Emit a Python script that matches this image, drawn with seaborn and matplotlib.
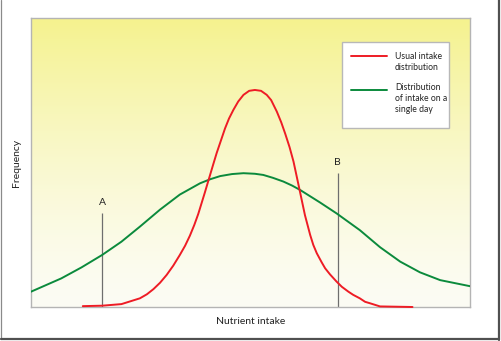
import numpy as np
import pandas as pd
import matplotlib
matplotlib.use("Agg")
import matplotlib.pyplot as plt
from matplotlib.lines import Line2D
from matplotlib.patches import Rectangle
import seaborn as sns

# Usual intake distribution (narrow curve)
usual_x = [11.8, 16.2, 20.6, 24.8, 26.4, 27.9, 29.4, 30.9, 32.4, 33.9, 35.1, 36.2,
           37.2, 38.1, 39.6, 40.5, 41.5, 42.3, 44.2, 45.1, 46.1, 47.2, 48.4, 49.7,
           51.0, 52.4, 53.7, 54.7, 56.0, 57.0, 57.9, 58.9, 59.8, 61.1, 62.4, 63.6,
           64.3, 65.1, 66.2, 67.0, 68.1, 69.6, 70.8, 72.3, 73.4, 74.9, 76.1, 77.2,
           79.5, 86.9]
usual_y = [0.3, 0.45, 1.0, 3.0, 4.4, 6.2, 8.4, 11.1, 14.3, 18.0, 21.2, 24.7,
           28.4, 32.2, 39.6, 44.2, 49.3, 53.3, 61.8, 65.2, 68.2, 71.1, 73.4, 74.8,
           75.1, 74.8, 73.4, 71.6, 67.6, 63.9, 60.0, 55.3, 50.3, 41.1, 31.8, 24.9,
           21.5, 18.6, 15.5, 13.4, 11.3, 8.8, 7.0, 5.3, 4.2, 3.0, 1.8, 1.3,
           0.2, 0.0]

# Distribution of intake on a single day (wide curve)
single_x = [0.0, 6.9, 11.5, 16.2, 20.6, 24.8, 29.4, 33.9, 38.5, 40.8, 43.1, 45.8,
            48.4, 51.0, 52.9, 55.1, 57.5, 59.5, 61.3, 65.8, 69.6, 74.9, 79.5, 84.1,
            88.6, 93.2, 100.0]
single_y = [5.3, 9.9, 13.7, 18.0, 22.6, 27.8, 33.7, 38.9, 42.8, 44.2, 45.3, 46.0,
            46.3, 46.1, 45.7, 44.7, 43.4, 42.0, 40.5, 36.2, 32.4, 26.6, 20.7, 15.7,
            12.0, 9.3, 7.2]

# Cut-off markers: position and height of the marker line
marker_names = ["A", "B"]
marker_x = [16.2, 69.9]
marker_top = [32.5, 46.4]

series_labels = ["Usual intake\ndistribution", "Distribution\nof intake on a\nsingle day"]
red = "#ee1c25"
green = "#0b8a3c"

sns.set_style("white")
plt.rcParams["font.family"] = ["Lato", "DejaVu Sans"]

W, H = 502, 341
fig = plt.figure(figsize=(W / 100, H / 100), dpi=100)
fig.patch.set_facecolor("white")


def fx(x):
    return x / W


def fy(y):
    return 1 - y / H


ax = fig.add_axes([fx(31), fy(307), 439 / W, 289 / H])
ax.set_xlim(0, 100)
ax.set_ylim(0, 100)

# yellow-to-white vertical wash behind the curves
t = np.linspace(0, 1, 256)[:, None] ** 1.4
top = np.array([245, 242, 142]) / 255
bottom = np.array([252, 252, 244]) / 255
grad = bottom + (top - bottom) * t[..., None]
grad = np.repeat(grad, 2, axis=1)
ax.imshow(grad, extent=[0, 100, 0, 100], origin="lower", aspect="auto", zorder=0)

usual = pd.DataFrame({"intake": usual_x, "freq": usual_y})
single = pd.DataFrame({"intake": single_x, "freq": single_y})

sns.lineplot(data=single, x="intake", y="freq", ax=ax, color=green, lw=1.4,
             sort=False, zorder=3, solid_joinstyle="round")
sns.lineplot(data=usual, x="intake", y="freq", ax=ax, color=red, lw=1.4,
             sort=False, zorder=4, clip_on=False, solid_joinstyle="round")

for name, mx, mt in zip(marker_names, marker_x, marker_top):
    ax.vlines(mx, 0, mt, color="#6e6e6e", lw=0.9, zorder=2)
    ax.text(mx, mt + 2.2, name, ha="center", va="bottom", fontsize=7.5,
            color="#222222")

ax.set_xticks([])
ax.set_yticks([])
ax.set_xlabel("")
ax.set_ylabel("")
for s in ax.spines.values():
    s.set_color("#b4b4b4")
    s.set_linewidth(1.0)

fig.text(fx(251), fy(321), "Nutrient intake", ha="center", va="center",
         fontsize=7.5, color="#222222")
fig.text(fx(17), fy(163), "Frequency", ha="center", va="center", rotation=90,
         fontsize=7.5, color="#222222")

# key box
fig.add_artist(Rectangle((fx(342), fy(128)), 107 / W, 86 / H,
                         transform=fig.transFigure, facecolor="white",
                         edgecolor="#b8b8b8", lw=1.0, zorder=5))
for color, label, ly, ty in [(red, series_labels[0], 56, 62.0),
                             (green, series_labels[1], 90, 98.7)]:
    fig.add_artist(Line2D([fx(351), fx(387)], [fy(ly), fy(ly)],
                          transform=fig.transFigure, color=color, lw=1.4, zorder=6))
    fig.text(fx(395), fy(ty), label, ha="left", va="center", fontsize=6.2,
             linespacing=1.25, color="#222222", zorder=6)

# outer frame with a darker shadow edge on the right and bottom
fig.add_artist(Line2D([fx(1.5), fx(1.5)], [fy(0), fy(339)], transform=fig.transFigure,
                      color="#8a8a8a", lw=0.9))
fig.add_artist(Line2D([fx(1.5), fx(499.5)], [fy(339.2), fy(339.2)],
                      transform=fig.transFigure, color="#505050", lw=1.6))
fig.add_artist(Line2D([fx(499.2), fx(499.2)], [fy(0), fy(339.5)],
                      transform=fig.transFigure, color="#505050", lw=1.6))

fig.savefig("out.png", dpi=100, facecolor="white")
